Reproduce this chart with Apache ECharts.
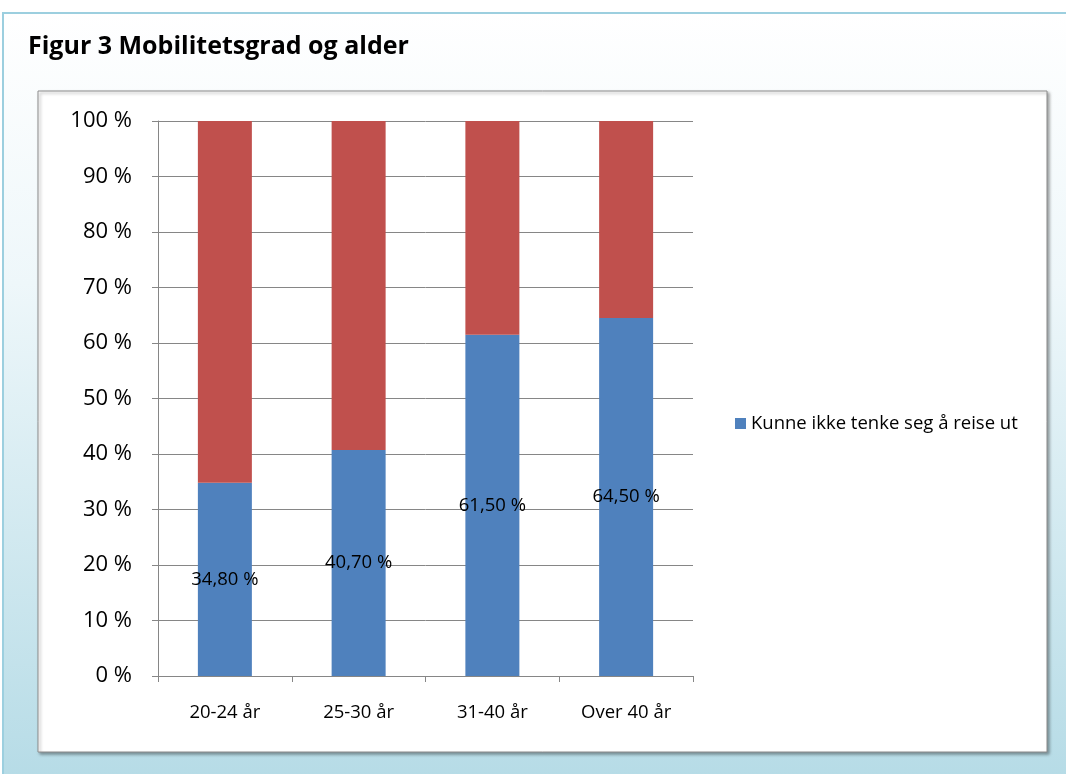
<!DOCTYPE html>
<html>
<head>
<meta charset="utf-8">
<script src="https://cdn.jsdelivr.net/npm/echarts@6/dist/echarts.min.js"></script>
<style>
html,body{margin:0;padding:0;background:#fff;}
#c{width:1066px;height:774px;}
</style>
</head>
<body>
<div id="c"></div>
<script>
const categories = ['20-24 år', '25-30 år', '31-40 år', 'Over 40 år'];
const kunneIkke = [34.8, 40.7, 61.5, 64.5];
const resten = [65.2, 59.3, 38.5, 35.5];
const yTicks = [0, 10, 20, 30, 40, 50, 60, 70, 80, 90, 100];
const legendName = 'Kunne ikke tenke seg å reise ut';
const titleText = 'Figur 3 Mobilitetsgrad og alder';

const FONT = '"Open Sans", Lato, sans-serif';
const chart = echarts.init(document.getElementById('c'), null, {renderer: 'canvas'});
chart.setOption({
  backgroundColor: 'transparent',
  animation: false,
  graphic: [
    {type: 'rect', z: -10, shape: {x: 3, y: 13, width: 1066, height: 774}, style: {
      fill: new echarts.graphic.LinearGradient(0, 0, 0, 1, [
        {offset: 0, color: '#ffffff'}, {offset: 0.35, color: '#eef7fa'}, {offset: 1, color: '#b5dbe6'}
      ]), stroke: '#9ccfdf', lineWidth: 2}},
    {type: 'rect', z: -9, shape: {x: 38, y: 91, width: 1009, height: 661}, style: {
      fill: '#ffffff', stroke: '#8c8c8c', lineWidth: 1,
      shadowColor: 'rgba(0,0,0,0.35)', shadowBlur: 3, shadowOffsetX: 2, shadowOffsetY: 2}}
  ],
  title: {
    text: titleText, left: 23, top: 29,
    textStyle: {fontFamily: FONT, fontWeight: 'bold', fontSize: 25, color: '#000'}
  },
  legend: {
    data: [legendName], left: 730, top: 409, itemWidth: 11, itemHeight: 11,
    icon: 'rect',
    textStyle: {fontFamily: FONT, fontSize: 18.5, color: '#000'}
  },
  grid: {left: 158, top: 121, width: 535, height: 555},
  xAxis: {
    type: 'category', data: categories,
    axisLine: {lineStyle: {color: '#868686'}},
    axisTick: {show: true, length: 6, lineStyle: {color: '#868686'}},
    axisLabel: {fontFamily: FONT, fontSize: 18.5, color: '#000', margin: 27}
  },
  yAxis: {
    type: 'value', min: 0, max: 100, interval: 10,
    axisLine: {show: true, lineStyle: {color: '#868686'}},
    axisTick: {show: true, length: 6, lineStyle: {color: '#868686'}},
    splitLine: {lineStyle: {color: '#868686'}},
    axisLabel: {fontFamily: FONT, fontSize: 22, color: '#000', margin: 26,
      formatter: v => yTicks.includes(v) ? v + ' %' : ''}
  },
  series: [
    {name: legendName, type: 'bar', stack: 's', data: kunneIkke, barWidth: 54,
     itemStyle: {color: '#4f81bd'},
     label: {show: true, position: 'inside', fontFamily: FONT, fontSize: 18.5, color: '#000',
       formatter: p => p.value.toFixed(2).replace('.', ',') + ' %'}},
    {name: 'Andre', type: 'bar', stack: 's', data: resten, barWidth: 54,
     itemStyle: {color: '#c0504d'}}
  ]
});
</script>
</body>
</html>
